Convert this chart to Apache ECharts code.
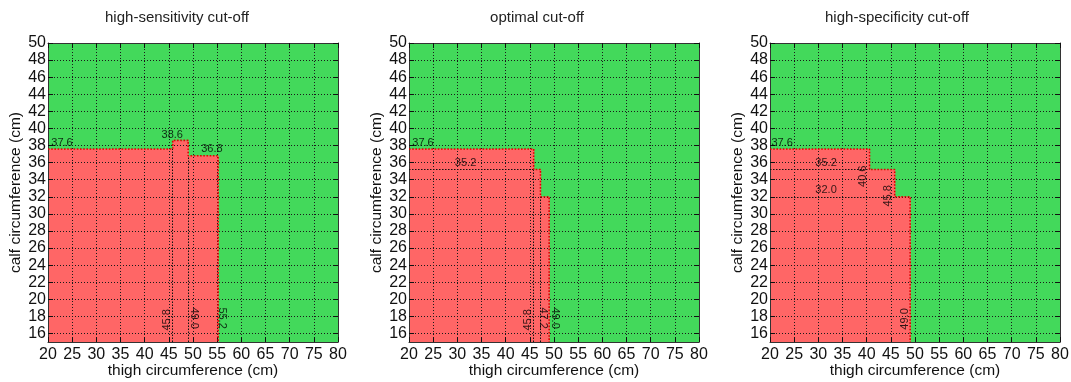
<!DOCTYPE html>
<html><head><meta charset="utf-8">
<script src="https://cdn.jsdelivr.net/npm/echarts@6/dist/echarts.min.js"></script>
<style>html,body{margin:0;padding:0;background:#fff}#c{width:1071px;height:382px}</style>
</head><body><div id="c"></div>
<script>
const titles = ['high-sensitivity cut-off', 'optimal cut-off', 'high-specificity cut-off'];
const xName = 'thigh circumference (cm)';
const yName = 'calf circumference (cm)';
const xTicks = [20, 25, 30, 35, 40, 45, 50, 55, 60, 65, 70, 75, 80];
const yTicks = [16, 18, 20, 22, 24, 26, 28, 30, 32, 34, 36, 38, 40, 42, 44, 46, 48, 50];
const xRange = [20, 80];
const yRange = [15, 50];

// thigh breakpoints and the calf cut-off of each step
const hsThigh = [20, 45.8, 49.0, 55.2];
const hsCalf = [37.6, 38.6, 36.8];
const opThigh = [20, 45.8, 47.2, 49.0];
const opCalf = [37.6, 35.2, 32.0];
const spThigh = [20, 40.6, 45.8, 49.0];
const spCalf = [37.6, 35.2, 32.0];

// black dotted reference lines [x0, y0, x1, y1]
const hsRef = [[45.8, 15, 45.8, 37.6], [49.0, 15, 49.0, 36.8]];
const opRef = [[45.8, 15, 45.8, 35.2], [47.2, 15, 47.2, 32.0], [20, 35.2, 45.8, 35.2]];
const spRef = [[20, 35.2, 40.6, 35.2], [20, 32.0, 45.8, 32.0]];

// annotations [text, x, y, rotation]
const hsNotes = [['37.6', 22.9, 38.3, 0], ['38.6', 45.7, 39.2, 0], ['36.8', 53.9, 37.6, 0],
  ['45.8', 44.55, 17.6, 90], ['49.0', 50.2, 17.8, -90], ['55.2', 56.1, 17.8, -90]];
const opNotes = [['37.6', 22.9, 38.3, 0], ['35.2', 31.7, 36.0, 0],
  ['45.8', 44.56, 17.6, 90], ['47.2', 47.66, 17.8, -90], ['49.0', 50.2, 17.8, -90]];
const spNotes = [['37.6', 22.5, 38.3, 0], ['35.2', 31.6, 36.0, 0], ['32.0', 31.6, 32.8, 0],
  ['40.6', 39.3, 34.4, 90], ['45.8', 44.4, 32.1, 90], ['49.0', 47.9, 17.7, 90]];

const panels = [
  { thigh: hsThigh, calf: hsCalf, ref: hsRef, notes: hsNotes },
  { thigh: opThigh, calf: opCalf, ref: opRef, notes: opNotes },
  { thigh: spThigh, calf: spCalf, ref: spRef, notes: spNotes }
];

const FONT = "'Liberation Sans', Arial, Helvetica, sans-serif";
const RED = '#ff6666', GREEN = '#43d95b';
const gridLefts = [48, 409, 770];
const titleCenters = [177, 537, 897];

const option = {
  animation: false,
  textStyle: { fontFamily: FONT },
  title: [], grid: [], xAxis: [], yAxis: [], series: []
};

panels.forEach((p, k) => {
  option.title.push({
    text: titles[k], left: titleCenters[k], top: 10, textAlign: 'center', padding: 0,
    textStyle: { fontSize: 15, fontWeight: 'normal', color: '#222', fontFamily: FONT }
  });
  option.grid.push({
    left: gridLefts[k], top: 43, width: 290, height: 299, outerBoundsMode: 'none', containLabel: false,
    show: true, backgroundColor: GREEN, borderWidth: 0
  });
  const gridLine = { show: true, lineStyle: { color: '#1a1a1a', width: 1, type: [1, 2] } };
  option.xAxis.push({
    type: 'value', gridIndex: k, min: xRange[0], max: xRange[1], interval: 5, z: 3,
    axisLine: { show: true, onZero: false, lineStyle: { color: '#333', width: 1 } },
    axisTick: { show: true, inside: true, length: 5, customValues: xTicks, lineStyle: { color: '#111' } },
    axisLabel: { fontSize: 16, color: '#111', margin: 5, customValues: xTicks, fontFamily: FONT },
    splitLine: gridLine,
    name: xName, nameLocation: 'middle', nameGap: 21, nameMoveOverlap: false,
    nameTextStyle: { fontSize: 15.5, color: '#111', fontFamily: FONT }
  });
  option.xAxis.push({
    type: 'value', gridIndex: k, position: 'top', min: xRange[0], max: xRange[1], interval: 5, z: 3,
    axisLine: { show: true, onZero: false, lineStyle: { color: '#333', width: 1 } },
    axisTick: { show: true, inside: true, length: 5, lineStyle: { color: '#111' } },
    axisLabel: { show: false }, splitLine: { show: false }
  });
  option.yAxis.push({
    type: 'value', gridIndex: k, min: yRange[0], max: yRange[1], z: 3,
    axisLine: { show: true, onZero: false, lineStyle: { color: '#333', width: 1 } },
    axisTick: { show: true, inside: true, length: 5, customValues: yTicks, lineStyle: { color: '#111' } },
    axisLabel: { fontSize: 16, color: '#111', margin: 2, customValues: yTicks, fontFamily: FONT },
    splitLine: gridLine,
    name: yName, nameLocation: 'middle', nameGap: 24, nameMoveOverlap: false,
    nameTextStyle: { fontSize: 15.5, color: '#111', fontFamily: FONT }
  });
  option.yAxis.push({
    type: 'value', gridIndex: k, position: 'right', min: yRange[0], max: yRange[1], z: 3,
    axisLine: { show: true, onZero: false, lineStyle: { color: '#333', width: 1 } },
    axisTick: { show: true, inside: true, length: 5, customValues: yTicks, lineStyle: { color: '#111' } },
    axisLabel: { show: false, customValues: yTicks }, splitLine: { show: false }
  });

  const xi = 2 * k, yi = 2 * k;
  // red region: one rectangle per step
  const steps = p.calf.map((c, i) => [p.thigh[i], p.thigh[i + 1], c]);
  option.series.push({
    type: 'custom', xAxisIndex: xi, yAxisIndex: yi, z: 1, silent: true, clip: true,
    data: steps, encode: { x: [0, 1], y: 2 },
    renderItem: (params, api) => {
      const a = api.coord([api.value(0), api.value(2)]);
      const b = api.coord([api.value(1), yRange[0]]);
      return { type: 'rect', shape: { x: a[0], y: a[1], width: b[0] - a[0] + 0.5, height: b[1] - a[1] },
        style: { fill: RED } };
    }
  });
  // red dotted boundary
  const pts = [];
  p.calf.forEach((c, i) => { pts.push([p.thigh[i], c]); pts.push([p.thigh[i + 1], c]); });
  pts.push([p.thigh[p.thigh.length - 1], yRange[0]]);
  option.series.push({
    type: 'line', xAxisIndex: xi, yAxisIndex: yi, z: 4, silent: true, data: pts,
    showSymbol: false, symbol: 'none',
    lineStyle: { color: '#dd0000', width: 1.6, type: [1.6, 1.6] }
  });
  // black dotted reference lines
  option.series.push({
    type: 'lines', coordinateSystem: 'cartesian2d', xAxisIndex: xi, yAxisIndex: yi, z: 4, silent: true,
    data: p.ref.map(r => ({ coords: [[r[0], r[1]], [r[2], r[3]]] })),
    lineStyle: { color: '#111', width: 1, type: [1.5, 1.5], opacity: 1 }
  });
  // annotations
  option.series.push({
    type: 'scatter', xAxisIndex: xi, yAxisIndex: yi, z: 5, silent: true, symbolSize: 0,
    data: p.notes.map(n => ({ name: n[0], value: [n[1], n[2]], label: { rotate: n[3] } })),
    label: { show: true, formatter: '{b}', position: 'inside', align: 'center', verticalAlign: 'middle',
      fontSize: 11, color: '#000', fontFamily: FONT }
  });
});

const chart = echarts.init(document.getElementById('c'), null, { renderer: 'canvas' });
chart.setOption(option);
</script></body></html>
